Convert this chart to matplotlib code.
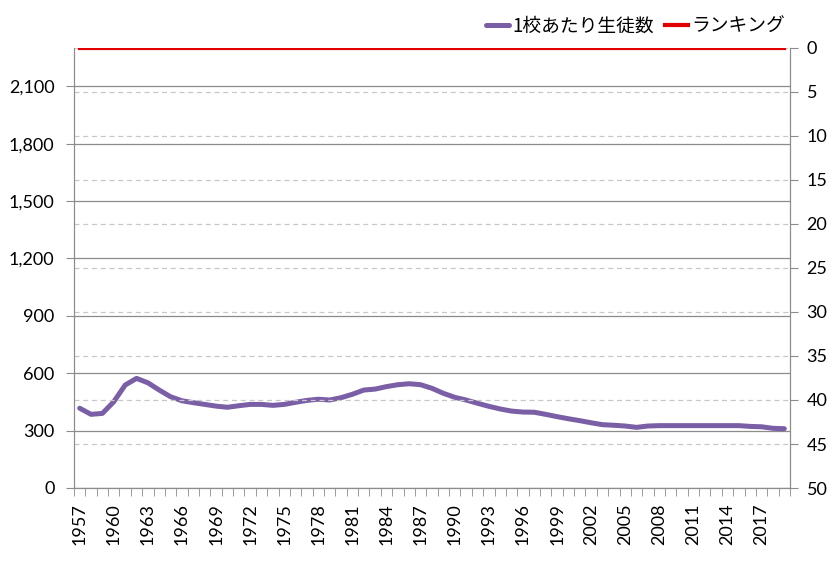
import matplotlib
matplotlib.use("Agg")
import matplotlib.pyplot as plt
from matplotlib.ticker import FuncFormatter, MultipleLocator, FixedLocator

plt.rcParams['font.family'] = ['Lato', 'Noto Sans CJK JP', 'DejaVu Sans']

# データ
years = list(range(1957, 2020))
students_per_school = [
    417, 385, 390, 451, 538, 573, 550, 512, 477, 456,
    446, 437, 428, 422, 430, 437, 437, 432, 437, 448,
    458, 464, 460, 472, 490, 512, 517, 530, 540, 545,
    540, 521, 495, 474, 460, 443, 427, 413, 402, 397,
    396, 385, 373, 362, 352, 341, 331, 328, 324, 317,
    324, 326, 326, 326, 326, 326, 326, 326, 326, 322,
    320, 312, 310,
]
ranking = [0] * len(years)
label_years = list(range(1957, 2018, 3))

grid_col = '#8c8c8c'
purple = '#7a5fa6'
red = '#e00000'

fig = plt.figure(figsize=(8.34, 5.62), dpi=100)
ax = fig.add_axes([74 / 834, 1 - 488 / 562, (790 - 74) / 834, (488 - 48) / 562])
ax2 = ax.twinx()

x = list(range(len(years)))
l1, = ax.plot(x, students_per_school, color=purple, lw=3.6, solid_capstyle='round',
              label='1校あたり生徒数', zorder=3)
l2, = ax2.plot(x, ranking, color=red, lw=3.0, label='ランキング', zorder=3)

# 左軸
ax.set_ylim(0, 2300)
ax.yaxis.set_major_locator(FixedLocator(range(0, 2101, 300)))
ax.yaxis.set_major_formatter(FuncFormatter(lambda v, p: f'{int(v):,}'))
ax.grid(axis='y', color=grid_col, lw=0.9, zorder=0)

# 右軸（順位、反転）
ax2.set_ylim(50, 0)
ax2.yaxis.set_major_locator(MultipleLocator(5))
ax2.grid(axis='y', color='#c8c8c8', lw=0.9, ls=(0, (4, 3)), zorder=0)

# x軸
ax.set_xlim(-0.5, len(years) - 0.5)
ax.set_xticks([years.index(y) for y in label_years])
ax.set_xticklabels([str(y) for y in label_years], rotation=90)
ax.set_xticks([i - 0.5 for i in range(len(years) + 1)], minor=True)
ax.tick_params(axis='x', which='major', length=0, pad=11, labelsize=13)
ax.tick_params(axis='x', which='minor', length=6, color=grid_col, direction='out')
ax.tick_params(axis='y', length=6, color=grid_col, labelsize=13, pad=8)
ax2.tick_params(axis='y', length=6, color=grid_col, labelsize=13, pad=6)

for a in (ax, ax2):
    a.spines['top'].set_visible(False)
    for s in ('left', 'right', 'bottom'):
        a.spines[s].set_color(grid_col)
ax.set_axisbelow(True)
ax2.set_axisbelow(True)

fig.legend(handles=[l1, l2], loc='upper right', bbox_to_anchor=(802 / 834, 1 + 1 / 562),
           ncol=2, frameon=False, handlelength=1.2, columnspacing=0.6, handletextpad=0.2,
           prop={'family': ['Noto Sans CJK JP'], 'size': 13.5})

fig.savefig('out.png', dpi=100)
